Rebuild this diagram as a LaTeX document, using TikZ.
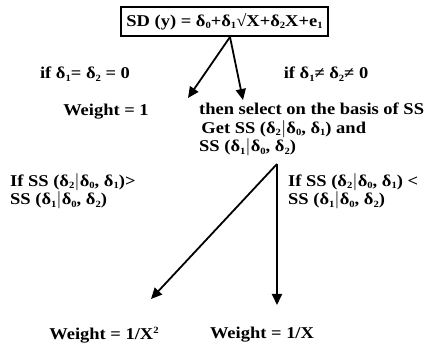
\documentclass[tikz,border=0pt]{standalone}
\usepackage{fontspec}
\setmainfont{Liberation Serif}
\usetikzlibrary{arrows.meta}
\newcommand{\sx}[1]{\scalebox{1.12}[1]{#1}}
\newcommand{\lowix}[1]{\raisebox{-2.5pt}{\fontsize{9.5}{9.5}\selectfont #1}}
\newcommand{\dd}[1]{δ\lowix{#1}}
\begin{document}
\begin{tikzpicture}[x=1pt,y=-1pt,
  txt/.style={inner sep=0pt, font=\fontsize{16.5}{18}\selectfont\bfseries},
  arr/.style={line width=1.8pt, -{Triangle[length=11pt,width=10pt]}},
  eqbox/.style={draw, line width=1.6pt, minimum width=207pt, minimum height=29pt, inner sep=0pt}]
\useasboundingbox (0,0) rectangle (426,344);
\node[eqbox, txt] (eq) at (224.5,21.5) {\sx{SD (y) = \dd{0}+\dd{1}√X+\dd{2}X+e\lowix{1}}};
\node[txt] (c1) at (85,74) {\sx{if \dd{1}= \dd{2} = 0}};
\node[txt] (c2) at (326,74) {\sx{if \dd{1}≠ \dd{2}≠ 0}};
\coordinate (o1) at (230,37);
\node[txt] (w1) at (106,112) {\sx{Weight = 1}};
\node[txt, anchor=north west] (sel) at (199,102) {\sx{\begin{tabular}{@{}l@{}}then select on the basis of SS\\
\hspace{2pt}Get SS (\dd{2}$|$\dd{0}, \dd{1}) and\\
SS (\dd{1}$|$\dd{0}, \dd{2})\end{tabular}}};
\coordinate (t1) at (188,98);
\coordinate (t2) at (243,100);
\draw[arr] (o1) -- (t1);
\draw[arr] (o1) -- (t2);
\coordinate (o2) at (277,164);
\coordinate (t3) at (151,299);
\coordinate (t4) at (277,305);
\draw[arr] (o2) -- (t3);
\draw[arr] (o2) -- (t4);
\node[txt, anchor=north west] (l1) at (10,173) {\sx{\begin{tabular}{@{}l@{}}If SS (\dd{2}$|$\dd{0}, \dd{1})>\\SS (\dd{1}$|$\dd{0}, \dd{2})\end{tabular}}};
\node[txt, anchor=north west] (l2) at (288,173) {\sx{\begin{tabular}{@{}l@{}}If SS (\dd{2}$|$\dd{0}, \dd{1}) <\\SS (\dd{1}$|$\dd{0}, \dd{2})\end{tabular}}};
\node[txt] (w2) at (104,335) {\sx{Weight = 1/X\raisebox{6pt}{\fontsize{9.5}{9.5}\selectfont 2}}};
\node[txt] (w3) at (262,335) {\sx{Weight = 1/X}};
\end{tikzpicture}
\end{document}
